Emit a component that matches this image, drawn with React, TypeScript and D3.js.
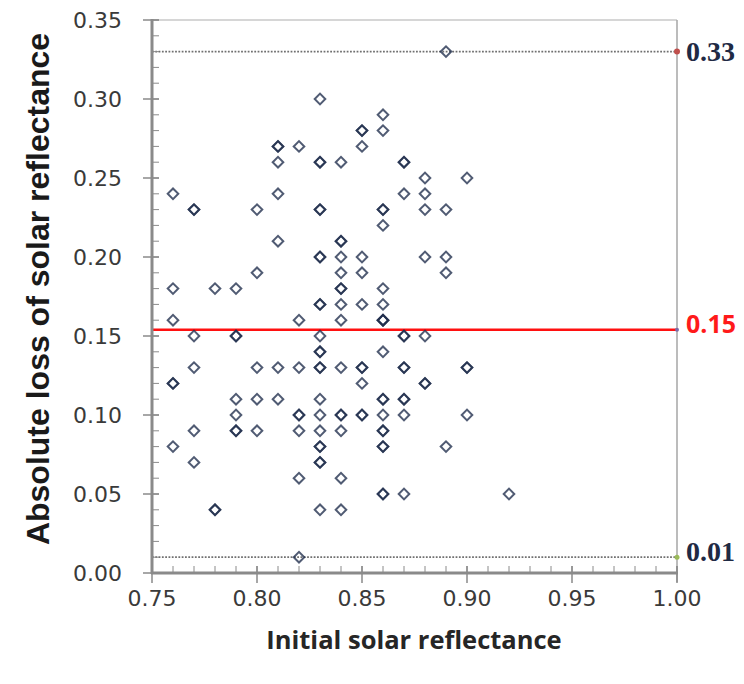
import React, { useEffect, useRef } from 'react';
import * as d3 from 'd3';

// loss levels (y) and the initial reflectances (x) of every sample at that level
const lossLevels = [0.33, 0.30, 0.29, 0.28, 0.27, 0.26, 0.25, 0.24, 0.23, 0.22, 0.21, 0.20, 0.19, 0.18, 0.17,
    0.16, 0.15, 0.14, 0.13, 0.12, 0.11, 0.10, 0.09, 0.08, 0.07, 0.06, 0.05, 0.04, 0.01];
const reflectanceAtLevel = [
    [0.89],
    [0.83],
    [0.86],
    [0.85, 0.85, 0.86],
    [0.81, 0.81, 0.82, 0.85],
    [0.81, 0.83, 0.83, 0.84, 0.87, 0.87],
    [0.88, 0.90],
    [0.76, 0.81, 0.87, 0.88],
    [0.77, 0.77, 0.80, 0.83, 0.83, 0.86, 0.86, 0.88, 0.89],
    [0.86],
    [0.81, 0.84, 0.84],
    [0.83, 0.83, 0.84, 0.85, 0.88, 0.89],
    [0.80, 0.84, 0.85, 0.89],
    [0.76, 0.78, 0.79, 0.84, 0.84, 0.86],
    [0.83, 0.83, 0.84, 0.85, 0.86],
    [0.76, 0.82, 0.84, 0.86, 0.86, 0.86],
    [0.77, 0.79, 0.79, 0.83, 0.87, 0.87, 0.88],
    [0.83, 0.83, 0.86],
    [0.77, 0.80, 0.81, 0.82, 0.83, 0.83, 0.84, 0.85, 0.85, 0.87, 0.87, 0.90, 0.90],
    [0.76, 0.76, 0.85, 0.88, 0.88],
    [0.79, 0.80, 0.81, 0.83, 0.86, 0.86, 0.87, 0.87],
    [0.79, 0.82, 0.82, 0.83, 0.84, 0.84, 0.85, 0.85, 0.86, 0.87, 0.90],
    [0.77, 0.79, 0.79, 0.80, 0.82, 0.83, 0.84, 0.86, 0.86],
    [0.76, 0.83, 0.83, 0.86, 0.86, 0.89],
    [0.77, 0.83, 0.83],
    [0.82, 0.84],
    [0.86, 0.86, 0.87, 0.92],
    [0.78, 0.78, 0.83, 0.84],
    [0.82],
];

const xTickValues = [0.75, 0.80, 0.85, 0.90, 0.95, 1.00];
const yTickValues = [0.00, 0.05, 0.10, 0.15, 0.20, 0.25, 0.30, 0.35];

// max, mean and min of the loss, with the labels shown on the right
const maxLoss = 0.33;
const meanLoss = 0.154;
const minLoss = 0.01;
const refLabels = ['0.33', '0.15', '0.01'];

const App = () => {
    const ref = useRef<SVGSVGElement | null>(null);

    useEffect(() => {
        if (!ref.current) return;
        const svg = d3.select(ref.current);
        svg.selectAll('*').remove();

        const x = d3.scaleLinear().domain([0.75, 1.0]).range([152, 677]);
        const y = d3.scaleLinear().domain([0, 0.35]).range([573, 20]);
        const [x0, x1] = x.range();
        const [yb, yt] = y.range();
        const axisColor = '#8a8a8a';

        const points = lossLevels.flatMap((l, i) => reflectanceAtLevel[i].map(r => ({ r, l })));

        // top and right borders
        svg.append('line').attr('x1', x0).attr('x2', x1).attr('y1', yt).attr('y2', yt)
            .attr('stroke', '#d6d6d6').attr('stroke-width', 2);
        svg.append('line').attr('x1', x1).attr('x2', x1).attr('y1', yt).attr('y2', yb + 9)
            .attr('stroke', '#a6a6a6').attr('stroke-width', 1.5);

        // dotted max / min lines
        [maxLoss, minLoss].forEach(v => {
            svg.append('line').attr('x1', x0).attr('x2', x1).attr('y1', y(v)).attr('y2', y(v))
                .attr('stroke', '#707070').attr('stroke-width', 1.8).attr('stroke-dasharray', '1.8,1.5');
        });

        // mean line
        svg.append('line').attr('x1', x0).attr('x2', x1).attr('y1', y(meanLoss)).attr('y2', y(meanLoss))
            .attr('stroke', '#ff1010').attr('stroke-width', 2.5);

        // markers
        const diamond = d3.symbol().type(d3.symbolSquare).size(56);
        svg.append('g').selectAll('path')
            .data(points)
            .enter()
            .append('path')
            .attr('d', diamond)
            .attr('transform', d => `translate(${x(d.r)},${y(d.l)}) rotate(45)`)
            .attr('fill', 'none')
            .attr('stroke', '#1f2d4c')
            .attr('stroke-width', 2)
            .attr('stroke-opacity', 0.78);

        // end dots of the reference lines
        svg.append('circle').attr('cx', x1).attr('cy', y(maxLoss)).attr('r', 3).attr('fill', '#c0504d');
        svg.append('circle').attr('cx', x1).attr('cy', y(meanLoss)).attr('r', 2).attr('fill', '#7d6aa8');
        svg.append('circle').attr('cx', x1).attr('cy', y(minLoss)).attr('r', 2.5).attr('fill', '#9bbb59');

        // axes
        svg.append('line').attr('x1', x0).attr('x2', x0).attr('y1', yt - 1).attr('y2', yb + 1)
            .attr('stroke', axisColor).attr('stroke-width', 3);
        svg.append('line').attr('x1', x0 - 1).attr('x2', x1 + 1).attr('y1', yb).attr('y2', yb)
            .attr('stroke', axisColor).attr('stroke-width', 3);

        const yMinor = d3.range(0, 36).map(i => i / 100);
        const xMinor = d3.range(0, 26).map(i => 0.75 + i / 100);

        svg.append('g').selectAll('line').data(yMinor).enter().append('line')
            .attr('x1', x0).attr('x2', x0 + 7).attr('y1', d => y(d)).attr('y2', d => y(d))
            .attr('stroke', axisColor).attr('stroke-width', 1);
        svg.append('g').selectAll('line').data(yTickValues).enter().append('line')
            .attr('x1', x0 - 9).attr('x2', x0 + 7).attr('y1', d => y(d)).attr('y2', d => y(d))
            .attr('stroke', axisColor).attr('stroke-width', 1.5);
        svg.append('g').selectAll('line').data(xMinor).enter().append('line')
            .attr('x1', d => x(d)).attr('x2', d => x(d)).attr('y1', yb - 7).attr('y2', yb)
            .attr('stroke', axisColor).attr('stroke-width', 1);
        svg.append('g').selectAll('line').data(xTickValues).enter().append('line')
            .attr('x1', d => x(d)).attr('x2', d => x(d)).attr('y1', yb - 7).attr('y2', yb + 10)
            .attr('stroke', axisColor).attr('stroke-width', 1.5);

        // tick labels
        svg.append('g').selectAll('text').data(yTickValues).enter().append('text')
            .attr('x', 122).attr('y', d => y(d)).attr('dy', '0.36em')
            .attr('text-anchor', 'end')
            .attr('font-family', 'DejaVu Sans').attr('font-size', 22).attr('fill', '#3a3a3a')
            .text(d => d3.format('.2f')(d));
        svg.append('g').selectAll('text').data(xTickValues).enter().append('text')
            .attr('x', d => x(d)).attr('y', 598).attr('dy', '0.36em')
            .attr('text-anchor', 'middle')
            .attr('font-family', 'DejaVu Sans').attr('font-size', 22).attr('fill', '#3a3a3a')
            .text(d => d3.format('.2f')(d));

        // reference labels
        const labelVals = [maxLoss, meanLoss, minLoss];
        svg.append('g').selectAll('text').data(refLabels).enter().append('text')
            .attr('x', 686).attr('y', (d, i) => y(labelVals[i]) - (i === 0 ? 1 : 6)).attr('dy', '0.36em')
            .attr('font-family', (d, i) => i === 1 ? 'Open Sans' : 'Liberation Serif')
            .attr('font-weight', 'bold').attr('font-size', (d, i) => i === 1 ? 25 : 28)
            .attr('fill', (d, i) => i === 1 ? '#ff1a1a' : '#1f2a44')
            .text(d => d);

        // axis titles
        svg.append('text')
            .attr('x', 414).attr('y', 640).attr('dy', '0.36em')
            .attr('text-anchor', 'middle')
            .attr('font-family', 'Open Sans').attr('font-weight', 'bold').attr('font-size', 25.5)
            .attr('fill', '#262626')
            .text('Initial solar reflectance');
        svg.append('text')
            .attr('transform', `translate(37,289) rotate(-90)`)
            .attr('dy', '0.36em')
            .attr('text-anchor', 'middle')
            .attr('font-family', 'Liberation Sans').attr('font-weight', 'bold').attr('font-size', 32)
            .attr('fill', '#1a1a1a')
            .text('Absolute loss of solar reflectance');
    }, []);

    return (
        <div style={{ position: 'absolute', left: 0, top: 0, background: '#fff' }}>
            <svg ref={ref} width={744} height={684} style={{ display: 'block' }} />
        </div>
    );
};

export default App;
